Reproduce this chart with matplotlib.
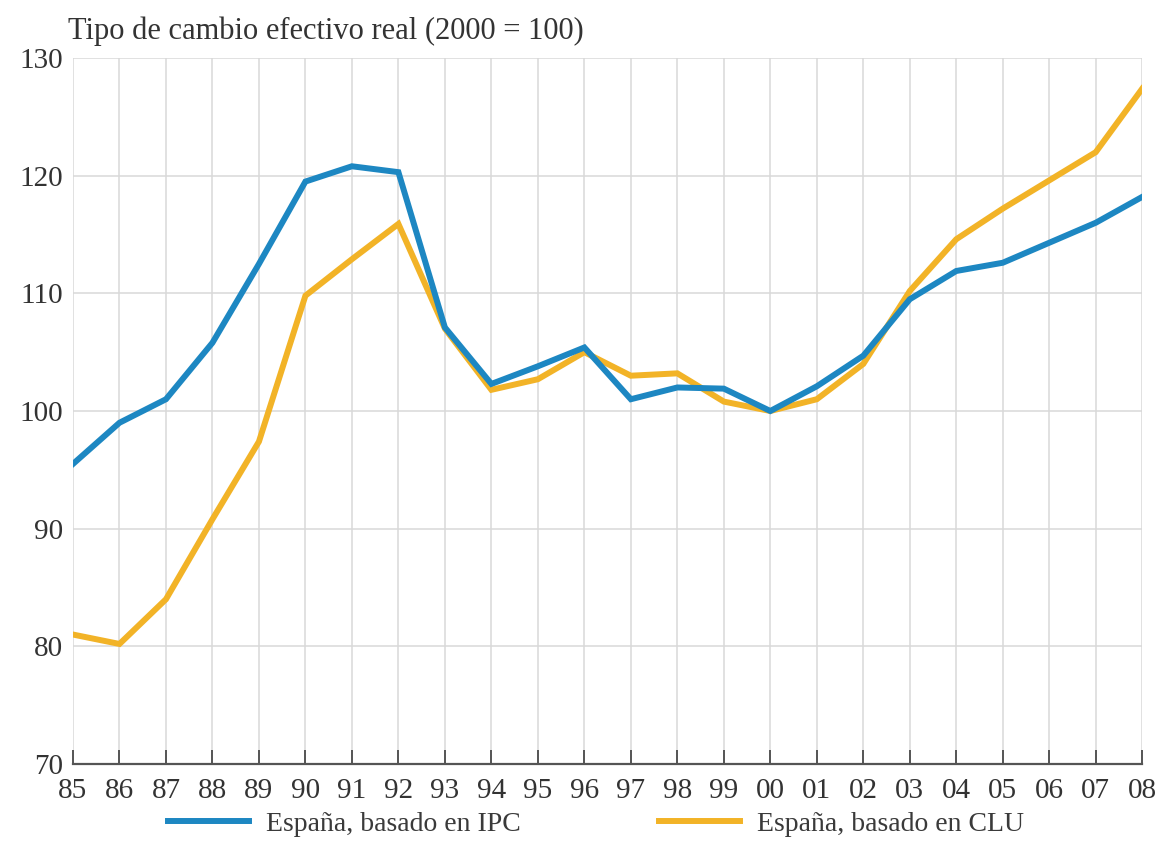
import numpy as np
import matplotlib
matplotlib.use('Agg')
import matplotlib.pyplot as plt
from matplotlib.lines import Line2D

# datos
anios = ['85', '86', '87', '88', '89', '90', '91', '92', '93', '94', '95', '96',
         '97', '98', '99', '00', '01', '02', '03', '04', '05', '06', '07', '08']
ipc = [95.5, 99.0, 101.0, 105.8, 112.5, 119.5, 120.8, 120.3, 107.1, 102.3, 103.8, 105.4,
       101.0, 102.0, 101.9, 100.0, 102.1, 104.7, 109.5, 111.9, 112.6, 114.3, 116.0, 118.2]
clu = [81.0, 80.2, 84.0, 90.8, 97.4, 109.8, 112.9, 115.9, 107.0, 101.8, 102.7, 105.0,
       103.0, 103.2, 100.8, 100.0, 101.0, 104.0, 110.2, 114.6, 117.2, 119.6, 122.0, 127.4]
yticks = [70, 80, 90, 100, 110, 120, 130]

azul = '#1d87c2'
naranja = '#f2b327'
fuente = 'Liberation Serif'

plt.rcParams['font.family'] = [fuente, 'DejaVu Serif']

fig = plt.figure(figsize=(11.64, 8.61), dpi=100)
ax = fig.add_axes([0.0627, 0.1127, 0.9186, 0.8199])

x = np.arange(len(anios))
ax.plot(x, ipc, color=azul, lw=4.3, solid_joinstyle='miter', zorder=3)
ax.plot(x, clu, color=naranja, lw=4.3, solid_joinstyle='miter', zorder=2)

ax.set_xlim(0, len(anios) - 1)
ax.set_ylim(70, 130)
ax.set_yticks(yticks)
ax.set_xticks(x)
ax.set_xticklabels(anios)

ax.grid(True, color='#d9d9d9', lw=1.1)
ax.set_axisbelow(True)
for s in ['top', 'right', 'left']:
    ax.spines[s].set_visible(False)
ax.spines['bottom'].set_color('#555555')
ax.spines['bottom'].set_linewidth(1.6)

ax.tick_params(axis='x', direction='in', length=10, width=1.4, color='#555555',
               labelsize=21, labelcolor='#333333', pad=10)
ax.tick_params(axis='y', length=0, labelsize=21, labelcolor='#333333', pad=7)

fig.text(0.058, 0.964, 'Tipo de cambio efectivo real (2000 = 100)', fontsize=22,
         color='#333333', va='center', ha='left')

handles = [Line2D([], [], color=azul, lw=4.3), Line2D([], [], color=naranja, lw=4.3)]
fig.legend(handles, ['España, basado en IPC', 'España, basado en CLU'],
           loc='center', bbox_to_anchor=(0.512, 0.043), ncol=2, frameon=False,
           fontsize=20, handlelength=2.9, handletextpad=0.6, columnspacing=5.0,
           labelcolor='#3a3a3a')

fig.savefig('out.png', dpi=100)
